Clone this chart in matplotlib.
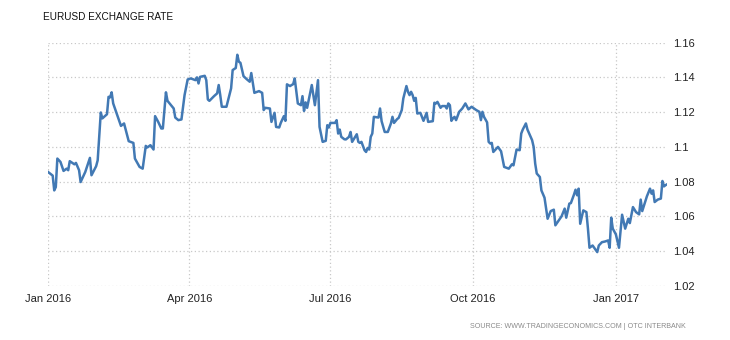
import matplotlib
matplotlib.use('Agg')
import matplotlib.pyplot as plt
import matplotlib.dates as mdates
from matplotlib.ticker import FormatStrFormatter
import pandas as pd

# days since 2016-01-01 and EURUSD rate
days = [0, 3, 4, 5, 6, 8, 10, 12, 13, 14, 17, 18, 20, 21, 24, 27, 28, 31, 32, 34,
        35, 38, 39, 40, 41, 42, 45, 47, 49, 52, 55, 56, 59, 61, 63, 64, 66, 68, 69, 71,
        73, 74, 76, 77, 81, 82, 84, 86, 88, 90, 92, 95, 96, 97, 98, 101, 102, 103, 104, 107,
        109, 110, 111, 112, 115, 118, 119, 121, 122, 123, 124, 126, 128, 130, 131, 133, 136, 138, 139, 140,
        143, 144, 146, 147, 149, 150, 152, 153, 154, 156, 157, 158, 159, 161, 163, 164, 165, 166, 167, 170,
        172, 174, 175, 177, 179, 180, 181, 182, 185, 186, 187, 188, 189, 191, 192, 194, 195, 196, 199, 200,
        201, 202, 204, 205, 206, 207, 208, 209, 210, 213, 214, 215, 217, 219, 221, 222, 223, 225, 226, 228,
        229, 231, 232, 233, 234, 235, 236, 237, 238, 240, 242, 244, 245, 248, 249, 250, 251, 253, 254, 256,
        257, 258, 259, 260, 261, 262, 263, 265, 267, 268, 269, 271, 273, 276, 278, 279, 280, 281, 283, 284,
        285, 286, 287, 290, 292, 294, 297, 299, 300, 302, 304, 305, 306, 308, 309, 312, 313, 314, 315, 317,
        318, 320, 322, 324, 326, 327, 331, 333, 334, 336, 337, 339, 340, 341, 342, 343, 345, 347, 348, 349,
        351, 354, 355, 357, 359, 361, 362, 363, 364, 366, 368, 370, 372, 373, 374, 375, 377, 379, 381, 382,
        383, 385, 386, 388, 389, 390, 391, 393, 395, 396, 397, 398, 399]
rates = [1.0856, 1.0835, 1.0750, 1.0769, 1.0933, 1.0914, 1.0862, 1.0875, 1.0866, 1.0918,
         1.0900, 1.0908, 1.0866, 1.0798, 1.0856, 1.0937, 1.0837, 1.0889, 1.0923, 1.1198,
         1.1164, 1.1188, 1.1288, 1.1285, 1.1314, 1.1250, 1.1173, 1.1121, 1.1135, 1.1033,
         1.1023, 1.0933, 1.0885, 1.0875, 1.1006, 1.0997, 1.1010, 1.0985, 1.1177, 1.1144,
         1.1106, 1.1106, 1.1314, 1.1265, 1.1221, 1.1169, 1.1154, 1.1158, 1.1298, 1.1388,
         1.1394, 1.1384, 1.1400, 1.1365, 1.1403, 1.1409, 1.1384, 1.1273, 1.1265, 1.1292,
         1.1308, 1.1356, 1.1298, 1.1231, 1.1231, 1.1337, 1.1442, 1.1454, 1.1530, 1.1490,
         1.1484, 1.1407, 1.1390, 1.1375, 1.1425, 1.1311, 1.1321, 1.1311, 1.1212, 1.1225,
         1.1221, 1.1144, 1.1196, 1.1115, 1.1112, 1.1138, 1.1177, 1.1150, 1.1360, 1.1350,
         1.1356, 1.1361, 1.1394, 1.1250, 1.1240, 1.1292, 1.1207, 1.1256, 1.1225, 1.1356,
         1.1240, 1.1384, 1.1115, 1.1029, 1.1035, 1.1125, 1.1112, 1.1138, 1.1138, 1.1154,
         1.1077, 1.1100, 1.1058, 1.1044, 1.1043, 1.1058, 1.1086, 1.1029, 1.1073, 1.1029,
         1.1023, 1.1029, 1.0981, 1.0971, 1.0994, 1.0985, 1.1058, 1.1077, 1.1173, 1.1169,
         1.1221, 1.1148, 1.1086, 1.1086, 1.1135, 1.1173, 1.1138, 1.1160, 1.1167, 1.1212,
         1.1279, 1.1350, 1.1317, 1.1298, 1.1317, 1.1298, 1.1265, 1.1282, 1.1192, 1.1196,
         1.1150, 1.1196, 1.1144, 1.1148, 1.1254, 1.1250, 1.1259, 1.1225, 1.1235, 1.1235,
         1.1221, 1.1250, 1.1240, 1.1150, 1.1164, 1.1173, 1.1154, 1.1202, 1.1221, 1.1235,
         1.1250, 1.1216, 1.1231, 1.1212, 1.1202, 1.1154, 1.1202, 1.1173, 1.1141, 1.1029,
         1.1020, 1.1023, 1.0971, 1.1000, 1.0975, 1.0885, 1.0875, 1.0900, 1.0894, 1.0985,
         1.0981, 1.1077, 1.1100, 1.1135, 1.1100, 1.1039, 1.1000, 1.0904, 1.0847, 1.0827,
         1.0750, 1.0708, 1.0587, 1.0631, 1.0639, 1.0549, 1.0601, 1.0645, 1.0593, 1.0674,
         1.0677, 1.0726, 1.0754, 1.0722, 1.0760, 1.0558, 1.0635, 1.0625, 1.0530, 1.0420,
         1.0433, 1.0395, 1.0433, 1.0452, 1.0456, 1.0462, 1.0420, 1.0593, 1.0530, 1.0497,
         1.0420, 1.0610, 1.0530, 1.0558, 1.0587, 1.0562, 1.0654, 1.0625, 1.0612, 1.0697,
         1.0631, 1.0689, 1.0716, 1.0760, 1.0731, 1.0750, 1.0683, 1.0697, 1.0703, 1.0804,
         1.0773, 1.0780, 1.0785]

tick_dates = ['2016-01-01', '2016-04-01', '2016-07-01', '2016-10-01', '2017-01-01']
tick_labels = ['Jan 2016', 'Apr 2016', 'Jul 2016', 'Oct 2016', 'Jan 2017']
y_ticks = [1.02, 1.04, 1.06, 1.08, 1.1, 1.12, 1.14, 1.16]

start = pd.Timestamp('2016-01-01')
dates = start + pd.to_timedelta(days, unit='D')

plt.rcParams['font.family'] = ['Liberation Sans', 'DejaVu Sans']

fig = plt.figure(figsize=(7.3, 3.4), dpi=100)
ax = fig.add_axes([0.0658, 0.1588, 0.848, 0.7159])

ax.plot(dates, rates, color='#4279b4', linewidth=1.8, solid_joinstyle='round')

ax.set_xlim(start, start + pd.Timedelta(days=399))
ax.set_ylim(1.02, 1.16)

ax.set_xticks(pd.to_datetime(tick_dates))
ax.set_xticklabels(tick_labels, fontsize=8, color='#222222')
ax.set_yticks(y_ticks)
ax.yaxis.set_major_formatter(FormatStrFormatter('%g'))
ax.yaxis.tick_right()
ax.tick_params(axis='y', length=0, pad=4, labelsize=8, labelcolor='#222222')
ax.tick_params(axis='x', length=0, pad=6)

ax.grid(True, linestyle=(0, (1, 2)), color='#c8c8c8', linewidth=0.9)
ax.set_axisbelow(True)
for s in ax.spines.values():
    s.set_visible(False)

fig.text(43 / 730, 1 - 17 / 340, 'EURUSD EXCHANGE RATE', fontsize=7.2, color='#111111',
         ha='left', va='center')
fig.text(686 / 730, 1 - 326 / 340, 'SOURCE: WWW.TRADINGECONOMICS.COM | OTC INTERBANK',
         fontsize=5.1, color='#8a8a8a', ha='right', va='center')

fig.savefig('out.png', dpi=100)
